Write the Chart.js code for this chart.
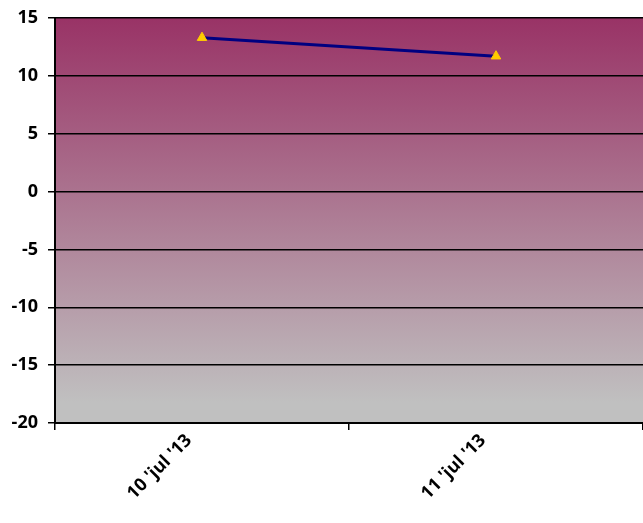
<!DOCTYPE html>
<html>
<head>
<meta charset="utf-8">
<script src="https://cdn.jsdelivr.net/npm/chart.js@4/dist/chart.umd.min.js"></script>
<style>
  html, body { margin: 0; padding: 0; background: #ffffff; overflow: hidden; }
  #wrap { width: 643px; height: 523px; position: relative; }
  canvas { display: block; }
</style>
</head>
<body>
<div id="wrap"><canvas id="chart"></canvas></div>
<script>
// Chart data
const dates = ["10 'jul '13", "11 'jul '13"];
const values = [13.3, 11.7];
const yTicks = [15, 10, 5, 0, -5, -10, -15, -20];

// Fill the plot area with the purple-to-grey gradient
const plotBackground = {
    id: 'plotBackground',
    beforeDraw(chart) {
        const { ctx, chartArea } = chart;
        const grad = ctx.createLinearGradient(0, chartArea.top, 0, chartArea.bottom);
        grad.addColorStop(0, '#993366');
        grad.addColorStop(0.95, '#c0c0c0');
        grad.addColorStop(1, '#c0c0c0');
        ctx.save();
        ctx.fillStyle = grad;
        ctx.fillRect(chartArea.left, chartArea.top, chartArea.right - chartArea.left, chartArea.bottom - chartArea.top);
        ctx.restore();
    }
};

const font = { family: "'Open Sans', sans-serif", size: 18, weight: 'bold' };

new Chart(document.getElementById('chart'), {
    type: 'line',
    data: {
        labels: dates,
        datasets: [{
            data: values,
            borderColor: '#000080',
            borderWidth: 3,
            pointStyle: 'triangle',
            pointRadius: 5.5,
            pointBackgroundColor: '#ffcc00',
            pointBorderColor: '#ffcc00',
            pointBorderWidth: 1,
            tension: 0
        }]
    },
    options: {
        responsive: true,
        maintainAspectRatio: false,
        animation: false,
        layout: {
            autoPadding: false,
            padding: { top: 18, right: 0, left: 0, bottom: 0 }
        },
        plugins: {
            legend: { display: false },
            tooltip: { enabled: false }
        },
        scales: {
            x: {
                offset: true,
                grid: {
                    offset: true,
                    drawOnChartArea: false,
                    color: '#000000',
                    lineWidth: 1.5,
                    tickLength: 7
                },
                border: { color: '#000000', width: 2 },
                ticks: {
                    color: '#000000',
                    font: font,
                    minRotation: 45,
                    maxRotation: 45,
                    padding: 0,
                    labelOffset: -13
                },
                afterFit(scale) {
                    scale.height = 100;
                    scale.paddingLeft = 0;
                    scale.paddingRight = 0;
                }
            },
            y: {
                min: -20,
                max: 15,
                afterBuildTicks(scale) {
                    scale.ticks = yTicks.map(v => ({ value: v }));
                },
                grid: {
                    color: '#000000',
                    lineWidth: 1.5,
                    tickLength: 7
                },
                border: { color: '#000000', width: 2 },
                ticks: {
                    color: '#000000',
                    font: font,
                    padding: 10
                },
                afterFit(scale) {
                    scale.width = 55;
                    scale.paddingTop = 0;
                    scale.paddingBottom = 0;
                }
            }
        }
    },
    plugins: [plotBackground]
});
</script>
</body>
</html>
